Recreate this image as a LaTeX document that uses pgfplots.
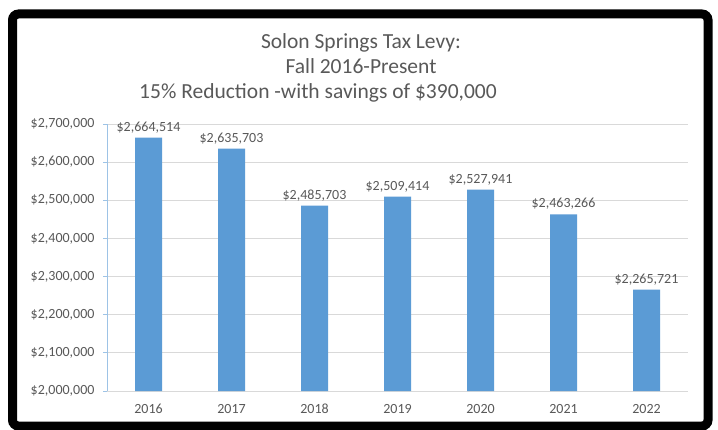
\documentclass[border=0pt]{standalone}
\usepackage{pgfplots}
\pgfplotsset{compat=1.18}
\usepackage{fontspec}
\setmainfont{Carlito}
\definecolor{barblue}{HTML}{5B9BD5}
\definecolor{txtgray}{HTML}{595959}
\definecolor{gridgray}{HTML}{D9D9D9}
\definecolor{yaxblue}{HTML}{9DC3E6}
\begin{document}
\begin{tikzpicture}[x=1bp,y=1bp]
\useasboundingbox (0,0) rectangle (718,429);
\fill[white] (0,0) rectangle (718,429);
\begin{axis}[
  at={(107bp,38bp)}, anchor=south west,
  scale only axis, width=581bp, height=267bp,
  xmin=-0.5, xmax=6.5, ymin=2000000, ymax=2700000,
  scaled y ticks=false,
  xtick={0,1,2,3,4,5,6},
  xticklabels={2016,2017,2018,2019,2020,2021,2022},
  ytick={2000000,2100000,2200000,2300000,2400000,2500000,2600000,2700000},
  yticklabels={{\$2,000,000},{\$2,100,000},{\$2,200,000},{\$2,300,000},{\$2,400,000},{\$2,500,000},{\$2,600,000},{\$2,700,000}},
  axis x line*=bottom, axis y line*=left,
  x axis line style={draw=gridgray, line width=0.8bp},
  y axis line style={draw=yaxblue, line width=0.8bp},
  xtick style={draw=none},
  ytick style={draw=yaxblue, line width=0.8bp},
  tick align=outside, major tick length=4bp,
  ymajorgrids, grid style={draw=gridgray, line width=0.8bp},
  ticklabel style={font=\fontsize{14bp}{16bp}\selectfont, text=txtgray},
  yticklabel style={xshift=-5bp},
  xticklabel style={yshift=-5bp, text height=10bp, text depth=0pt, anchor=north},
  ybar, bar width=27bp,
  point meta=explicit symbolic,
  nodes near coords,
  every node near coord/.append style={font=\fontsize{14bp}{16bp}\selectfont, text=txtgray, yshift=1bp},
  clip=false,
]
\addplot[fill=barblue, draw=none] coordinates {
  (0,2664514) [\$2,664,514]
  (1,2635703) [\$2,635,703]
  (2,2485703) [\$2,485,703]
  (3,2509414) [\$2,509,414]
  (4,2527941) [\$2,527,941]
  (5,2463266) [\$2,463,266]
  (6,2265721) [\$2,265,721]
};
\end{axis}
\node[text=txtgray, font=\fontsize{21.5bp}{24bp}\selectfont] at (361,386) {Solon Springs Tax Levy:};
\node[text=txtgray, font=\fontsize{21.5bp}{24bp}\selectfont] at (361,363) {Fall 2016-Present};
\node[text=txtgray, font=\fontsize{21.5bp}{24bp}\selectfont] at (318,336) {15\% Reduction -with savings of \$390,000};
\draw[black, line width=9bp, rounded corners=6bp] (12.5,3) rectangle (708,415);
\end{tikzpicture}
\end{document}
